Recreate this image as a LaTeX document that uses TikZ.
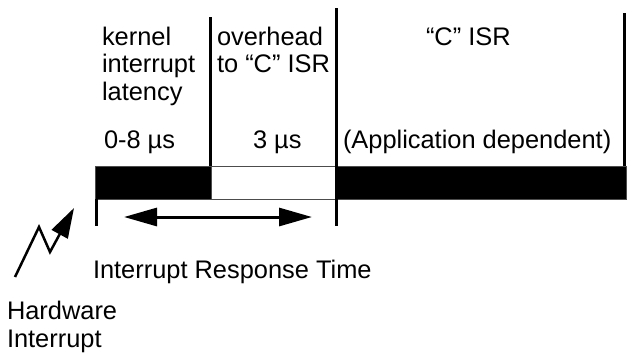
\documentclass[tikz,border=0pt]{standalone}
\usepackage{fontspec}
\setmainfont{Liberation Sans}
\usetikzlibrary{arrows.meta}
\begin{document}
\begin{tikzpicture}[x=1pt,y=-1pt,
  lbl/.style={inner sep=0pt,outer sep=0pt,font=\fontsize{25.4pt}{27.5pt}\selectfont,align=left},
  divider/.style={line width=3pt},
  blackseg/.style={fill=black,draw=black!70,line width=1pt},
  whiteseg/.style={fill=white,draw=black!70,line width=1pt}]
\useasboundingbox (0,0) rectangle (632,354);
% bar
\filldraw[blackseg] (95,166) rectangle (211,199);
\filldraw[whiteseg] (211,166) rectangle (335,199);
\filldraw[blackseg] (335,166) rectangle (626,199);
% dividers
\coordinate (d1t) at (210,17);  \coordinate (d1b) at (210,166);
\coordinate (d2t) at (336,8);   \coordinate (d2b) at (336,226);
\coordinate (d3t) at (624,13);  \coordinate (d3b) at (624,166);
\coordinate (d0t) at (96,199);  \coordinate (d0b) at (96,226);
\draw[divider] (d1t) -- (d1b);
\draw[divider] (d2t) -- (d2b);
\draw[divider] (d3t) -- (d3b);
\draw[divider] (d0t) -- (d0b);
% response time arrow
\coordinate (al) at (124,217); \coordinate (ar) at (312,217);
\draw[line width=3pt,{Triangle[length=33pt,width=18pt]}-{Triangle[length=33pt,width=18pt]}] (al) -- (ar);
% lightning
\coordinate (z0) at (15,277); \coordinate (z1) at (39,227); \coordinate (z2) at (50,252); \coordinate (z3) at (74,208);
\draw[line width=2.5pt,-{Triangle[length=30pt,width=18pt]}] (z0) -- (z1) -- (z2) -- (z3);
% texts
\node[lbl,anchor=base west] (kern) at (102,100) {kernel\\interrupt\\latency};
\node[lbl,anchor=base] (over) at (273.5,72.5) {overhead\\to “C” ISR};
\node[lbl,anchor=base west] (cisr) at (426,45) {“C” ISR};
\node[lbl,anchor=base west] (t1) at (104,148) {0-8 µs};
\node[lbl,anchor=base west] (t2) at (253,148) {3 µs};
\node[lbl,anchor=base west] (t3) at (343,148) {(Application dependent)};
\node[lbl,anchor=base west] (irt) at (93,278) {Interrupt Response Time};
\node[lbl,anchor=base west] (hw) at (7,347) {Hardware\\Interrupt};
\end{tikzpicture}
\end{document}
